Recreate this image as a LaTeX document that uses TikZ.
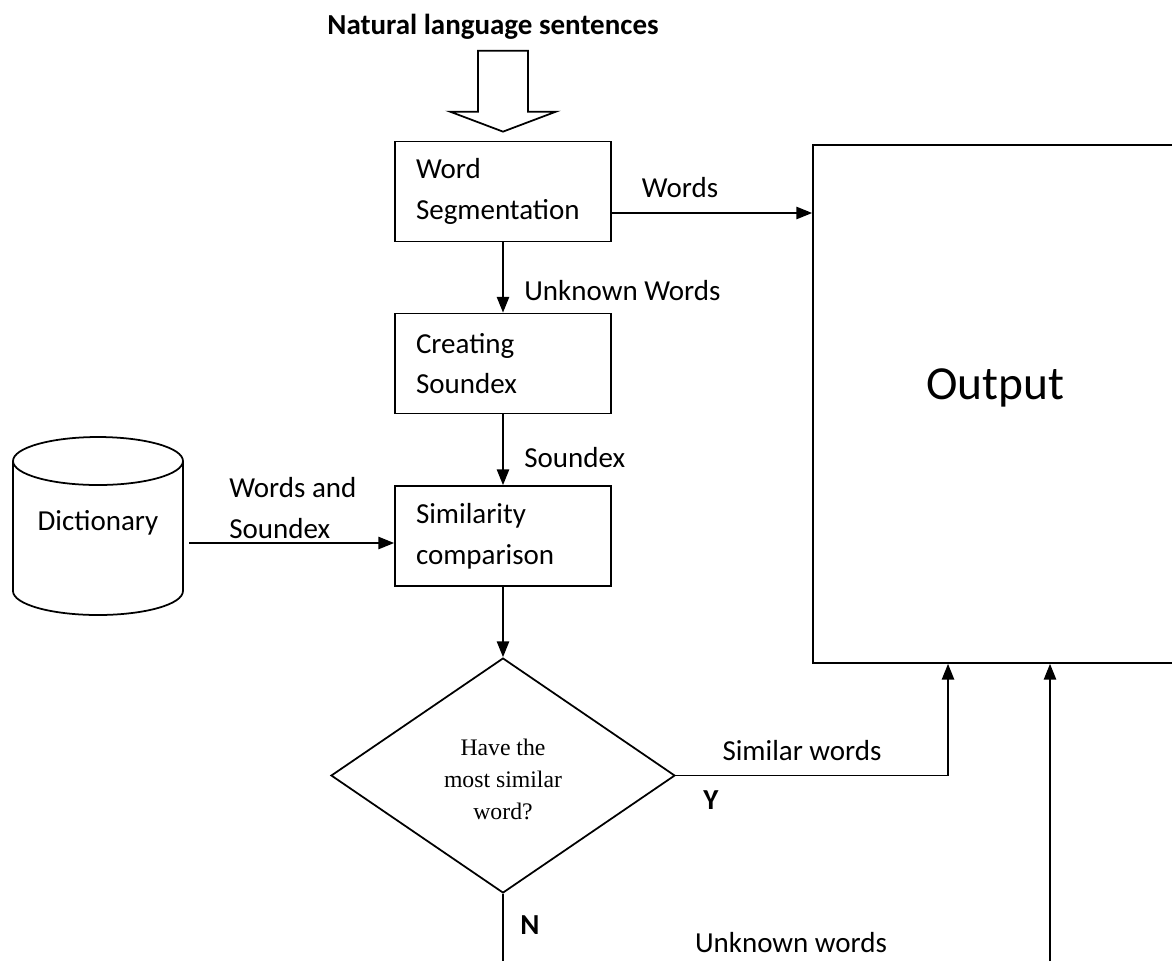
\documentclass[tikz,border=0pt]{standalone}
\usepackage{fontspec}
\setmainfont{Carlito}
\newfontfamily\diafont{Liberation Serif}
\usepackage{tikz}
\usetikzlibrary{arrows.meta,positioning,calc,shapes.geometric}
\newcommand{\lblsize}{\fontsize{16.5}{23.2}\selectfont}

\tikzset{
  procbox/.style={rectangle, draw, line width=1pt, fill=white,
                  minimum width=4.32cm, minimum height=2cm,
                  inner xsep=0.42cm, text width=3.48cm, align=left, font=\lblsize},
  lbl/.style={inner sep=0pt, font=\lblsize},
  arr/.style={line width=1pt, -{Triangle[length=9pt,width=7pt]}},
  ln/.style={line width=1pt}
}

\begin{document}
\begin{tikzpicture}[x=0.02cm, y=-0.02cm]
  \useasboundingbox (0,0) rectangle (1172,961);

  % title and input arrow
  \node[lbl, font=\lblsize\bfseries] (title) at (493,27) {Natural language sentences};
  \node[procbox] (ws) at (503,191.5) {Word\\Segmentation};
  \draw[ln, fill=white] ($(ws.north)+(-25,-90)$) -- ($(ws.north)+(25,-90)$)
     -- ($(ws.north)+(25,-29)$) -- ($(ws.north)+(53,-29)$) -- ($(ws.north)+(0,-9)$)
     -- ($(ws.north)+(-53,-29)$) -- ($(ws.north)+(-25,-29)$) -- cycle;

  % processing chain
  \node[procbox] (cs) at (503,363.5) {Creating\\Soundex};
  \node[procbox] (sc) at (503,536) {Similarity\\comparison};
  \node[diamond, draw, line width=1pt, minimum width=6.88cm, minimum height=4.7cm,
        aspect=1.46, inner sep=0pt] (dia) at (503,775.5) {};
  \node[align=center, inner sep=0pt, font=\diafont\fontsize{13.5}{18.2}\selectfont]
        at (503,779) {Have the\\most similar\\word?};

  % output
  \node[rectangle, draw, line width=1pt, minimum width=7.28cm, minimum height=10.36cm]
        (out) at (995,404) {};
  \node[font=\fontsize{27}{32}\selectfont, inner sep=0pt] at (995,388) {Output};

  % dictionary
  \node[lbl, minimum width=3.4cm, minimum height=3.56cm] (dict) at (98,526) {};
  \draw[ln, fill=white] (13,461) -- (13,591) arc[start angle=180, end angle=360,
        x radius=1.7cm, y radius=0.48cm] -- (183,461);
  \draw[ln, fill=white] (98,461) ellipse[x radius=1.7cm, y radius=0.48cm];
  \node[lbl] at (dict) [yshift=0.06cm] {Dictionary};

  % connectors
  \coordinate (wsout) at ([yshift=-0.43cm]ws.east);
  \draw[arr] (wsout) -- (wsout -| out.west);
  \draw[arr] (ws) -- (cs);
  \draw[arr] (cs) -- (sc);
  \draw[arr] (sc) -- (dia);
  \coordinate (dictout) at (189,543);
  \draw[arr] (dictout) -- (dictout -| sc.west);
  \draw[arr] (dia.east) -| ([xshift=-0.94cm]out.south);
  \coordinate (nend) at (503,961);
  \draw[ln] (dia.south) -- (nend);
  \coordinate (unkend) at (1050,961);
  \draw[arr] (unkend) -- (unkend |- out.south);

  % labels
  \node[lbl] at (680,188) {Words};
  \node[lbl, anchor=west] at (524,291) {Unknown Words};
  \node[lbl, anchor=west] at (524,458) {Soundex};
  \node[lbl, anchor=west, align=left] at (229,508) {Words and\\Soundex};
  \node[lbl] at (802,751) {Similar words};
  \node[lbl, font=\lblsize\bfseries] at (711,800) {Y};
  \node[lbl, font=\lblsize\bfseries] at (530,925) {N};
  \node[lbl] at (791,943) {Unknown words};
\end{tikzpicture}
\end{document}
